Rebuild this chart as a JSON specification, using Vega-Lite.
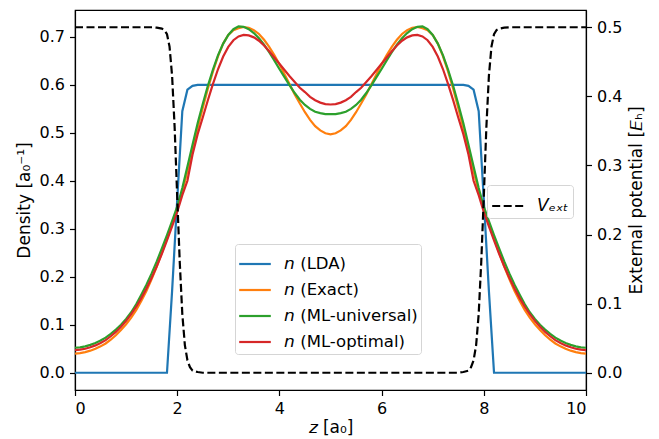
{
  "$schema": "https://vega.github.io/schema/vega-lite/v6.json",
  "width": 511,
  "height": 380,
  "autosize": "none",
  "padding": {"left": 75, "top": 10, "right": 73, "bottom": 49},
  "background": "white",
  "config": {
    "font": "DejaVu Sans",
    "view": {"stroke": "black", "strokeWidth": 1.2},
    "axis": {
      "grid": false,
      "domainColor": "black",
      "domainWidth": 1.2,
      "tickColor": "black",
      "tickWidth": 1.2,
      "labelColor": "black",
      "titleColor": "black",
      "labelFontSize": 16,
      "titleFontSize": 17,
      "titleFontWeight": "normal",
      "labelFont": "DejaVu Sans",
      "titleFont": "DejaVu Sans",
      "tickSize": 5.5,
      "labelPadding": 5
    }
  },
  "layer": [
    {
      "data": {
        "values": [
          {"z": 0.0, "lda": 0, "exact": 0.040, "mlu": 0.052, "mlo": 0.047},
          {"z": 0.1, "lda": 0, "exact": 0.041, "mlu": 0.053, "mlo": 0.048},
          {"z": 0.2, "lda": 0, "exact": 0.043, "mlu": 0.055, "mlo": 0.050},
          {"z": 0.3, "lda": 0, "exact": 0.046, "mlu": 0.058, "mlo": 0.053},
          {"z": 0.4, "lda": 0, "exact": 0.050, "mlu": 0.062, "mlo": 0.057},
          {"z": 0.5, "lda": 0, "exact": 0.055, "mlu": 0.067, "mlo": 0.062},
          {"z": 0.6, "lda": 0, "exact": 0.061, "mlu": 0.073, "mlo": 0.068},
          {"z": 0.7, "lda": 0, "exact": 0.069, "mlu": 0.081, "mlo": 0.076},
          {"z": 0.8, "lda": 0, "exact": 0.078, "mlu": 0.090, "mlo": 0.085},
          {"z": 0.9, "lda": 0, "exact": 0.089, "mlu": 0.100, "mlo": 0.096},
          {"z": 1.0, "lda": 0, "exact": 0.101, "mlu": 0.112, "mlo": 0.108},
          {"z": 1.1, "lda": 0, "exact": 0.115, "mlu": 0.126, "mlo": 0.122},
          {"z": 1.2, "lda": 0, "exact": 0.131, "mlu": 0.143, "mlo": 0.138},
          {"z": 1.3, "lda": 0, "exact": 0.150, "mlu": 0.163, "mlo": 0.156},
          {"z": 1.4, "lda": 0, "exact": 0.171, "mlu": 0.184, "mlo": 0.176},
          {"z": 1.5, "lda": 0, "exact": 0.195, "mlu": 0.207, "mlo": 0.198},
          {"z": 1.6, "lda": 0, "exact": 0.221, "mlu": 0.232, "mlo": 0.222},
          {"z": 1.7, "lda": 0, "exact": 0.250, "mlu": 0.259, "mlo": 0.248},
          {"z": 1.8, "lda": 0, "exact": 0.280, "mlu": 0.287, "mlo": 0.276},
          {"z": 1.9, "lda": 0.17, "exact": 0.310, "mlu": 0.316, "mlo": 0.305},
          {"z": 2.0, "lda": 0.36, "exact": 0.340, "mlu": 0.346, "mlo": 0.335},
          {"z": 2.1, "lda": 0.545, "exact": 0.378, "mlu": 0.385, "mlo": 0.370},
          {"z": 2.2, "lda": 0.59, "exact": 0.420, "mlu": 0.430, "mlo": 0.400},
          {"z": 2.3, "lda": 0.598, "exact": 0.465, "mlu": 0.475, "mlo": 0.455},
          {"z": 2.4, "lda": 0.6, "exact": 0.510, "mlu": 0.520, "mlo": 0.497},
          {"z": 2.5, "lda": 0.6, "exact": 0.552, "mlu": 0.560, "mlo": 0.532},
          {"z": 2.6, "lda": 0.6, "exact": 0.592, "mlu": 0.598, "mlo": 0.568},
          {"z": 2.7, "lda": 0.6, "exact": 0.628, "mlu": 0.632, "mlo": 0.602},
          {"z": 2.8, "lda": 0.6, "exact": 0.660, "mlu": 0.662, "mlo": 0.633},
          {"z": 2.9, "lda": 0.6, "exact": 0.686, "mlu": 0.686, "mlo": 0.659},
          {"z": 3.0, "lda": 0.6, "exact": 0.704, "mlu": 0.704, "mlo": 0.679},
          {"z": 3.1, "lda": 0.6, "exact": 0.714, "mlu": 0.716, "mlo": 0.693},
          {"z": 3.2, "lda": 0.6, "exact": 0.718, "mlu": 0.722, "mlo": 0.701},
          {"z": 3.3, "lda": 0.6, "exact": 0.7205, "mlu": 0.721, "mlo": 0.704},
          {"z": 3.4, "lda": 0.6, "exact": 0.719, "mlu": 0.716, "mlo": 0.703},
          {"z": 3.5, "lda": 0.6, "exact": 0.714, "mlu": 0.708, "mlo": 0.699},
          {"z": 3.6, "lda": 0.6, "exact": 0.706, "mlu": 0.697, "mlo": 0.692},
          {"z": 3.7, "lda": 0.6, "exact": 0.694, "mlu": 0.684, "mlo": 0.682},
          {"z": 3.8, "lda": 0.6, "exact": 0.679, "mlu": 0.668, "mlo": 0.670},
          {"z": 3.9, "lda": 0.6, "exact": 0.662, "mlu": 0.651, "mlo": 0.657},
          {"z": 4.0, "lda": 0.6, "exact": 0.643, "mlu": 0.633, "mlo": 0.644},
          {"z": 4.1, "lda": 0.6, "exact": 0.622, "mlu": 0.616, "mlo": 0.631},
          {"z": 4.2, "lda": 0.6, "exact": 0.601, "mlu": 0.599, "mlo": 0.618},
          {"z": 4.3, "lda": 0.6, "exact": 0.580, "mlu": 0.583, "mlo": 0.606},
          {"z": 4.4, "lda": 0.6, "exact": 0.561, "mlu": 0.569, "mlo": 0.594},
          {"z": 4.5, "lda": 0.6, "exact": 0.543, "mlu": 0.558, "mlo": 0.585},
          {"z": 4.6, "lda": 0.6, "exact": 0.527, "mlu": 0.550, "mlo": 0.575},
          {"z": 4.7, "lda": 0.6, "exact": 0.514, "mlu": 0.544, "mlo": 0.568},
          {"z": 4.8, "lda": 0.6, "exact": 0.505, "mlu": 0.541, "mlo": 0.563},
          {"z": 4.9, "lda": 0.6, "exact": 0.499, "mlu": 0.539, "mlo": 0.560},
          {"z": 5.0, "lda": 0.6, "exact": 0.497, "mlu": 0.539, "mlo": 0.559},
          {"z": 5.1, "lda": 0.6, "exact": 0.499, "mlu": 0.539, "mlo": 0.560},
          {"z": 5.2, "lda": 0.6, "exact": 0.505, "mlu": 0.541, "mlo": 0.563},
          {"z": 5.3, "lda": 0.6, "exact": 0.514, "mlu": 0.544, "mlo": 0.568},
          {"z": 5.4, "lda": 0.6, "exact": 0.527, "mlu": 0.550, "mlo": 0.575},
          {"z": 5.5, "lda": 0.6, "exact": 0.543, "mlu": 0.558, "mlo": 0.585},
          {"z": 5.6, "lda": 0.6, "exact": 0.561, "mlu": 0.569, "mlo": 0.594},
          {"z": 5.7, "lda": 0.6, "exact": 0.580, "mlu": 0.583, "mlo": 0.606},
          {"z": 5.8, "lda": 0.6, "exact": 0.601, "mlu": 0.599, "mlo": 0.618},
          {"z": 5.9, "lda": 0.6, "exact": 0.622, "mlu": 0.616, "mlo": 0.631},
          {"z": 6.0, "lda": 0.6, "exact": 0.643, "mlu": 0.633, "mlo": 0.644},
          {"z": 6.1, "lda": 0.6, "exact": 0.662, "mlu": 0.651, "mlo": 0.657},
          {"z": 6.2, "lda": 0.6, "exact": 0.679, "mlu": 0.668, "mlo": 0.670},
          {"z": 6.3, "lda": 0.6, "exact": 0.694, "mlu": 0.684, "mlo": 0.682},
          {"z": 6.4, "lda": 0.6, "exact": 0.706, "mlu": 0.697, "mlo": 0.692},
          {"z": 6.5, "lda": 0.6, "exact": 0.714, "mlu": 0.708, "mlo": 0.699},
          {"z": 6.6, "lda": 0.6, "exact": 0.719, "mlu": 0.716, "mlo": 0.703},
          {"z": 6.7, "lda": 0.6, "exact": 0.7205, "mlu": 0.721, "mlo": 0.704},
          {"z": 6.8, "lda": 0.6, "exact": 0.718, "mlu": 0.722, "mlo": 0.701},
          {"z": 6.9, "lda": 0.6, "exact": 0.714, "mlu": 0.716, "mlo": 0.693},
          {"z": 7.0, "lda": 0.6, "exact": 0.704, "mlu": 0.704, "mlo": 0.679},
          {"z": 7.1, "lda": 0.6, "exact": 0.686, "mlu": 0.686, "mlo": 0.659},
          {"z": 7.2, "lda": 0.6, "exact": 0.660, "mlu": 0.662, "mlo": 0.633},
          {"z": 7.3, "lda": 0.6, "exact": 0.628, "mlu": 0.632, "mlo": 0.602},
          {"z": 7.4, "lda": 0.6, "exact": 0.592, "mlu": 0.598, "mlo": 0.568},
          {"z": 7.5, "lda": 0.6, "exact": 0.552, "mlu": 0.560, "mlo": 0.532},
          {"z": 7.6, "lda": 0.6, "exact": 0.510, "mlu": 0.520, "mlo": 0.497},
          {"z": 7.7, "lda": 0.598, "exact": 0.465, "mlu": 0.475, "mlo": 0.455},
          {"z": 7.8, "lda": 0.59, "exact": 0.420, "mlu": 0.430, "mlo": 0.400},
          {"z": 7.9, "lda": 0.545, "exact": 0.378, "mlu": 0.385, "mlo": 0.370},
          {"z": 8.0, "lda": 0.36, "exact": 0.340, "mlu": 0.346, "mlo": 0.335},
          {"z": 8.1, "lda": 0.17, "exact": 0.310, "mlu": 0.316, "mlo": 0.305},
          {"z": 8.2, "lda": 0, "exact": 0.280, "mlu": 0.287, "mlo": 0.276},
          {"z": 8.3, "lda": 0, "exact": 0.250, "mlu": 0.259, "mlo": 0.248},
          {"z": 8.4, "lda": 0, "exact": 0.221, "mlu": 0.232, "mlo": 0.222},
          {"z": 8.5, "lda": 0, "exact": 0.195, "mlu": 0.207, "mlo": 0.198},
          {"z": 8.6, "lda": 0, "exact": 0.171, "mlu": 0.184, "mlo": 0.176},
          {"z": 8.7, "lda": 0, "exact": 0.150, "mlu": 0.163, "mlo": 0.156},
          {"z": 8.8, "lda": 0, "exact": 0.131, "mlu": 0.143, "mlo": 0.138},
          {"z": 8.9, "lda": 0, "exact": 0.115, "mlu": 0.126, "mlo": 0.122},
          {"z": 9.0, "lda": 0, "exact": 0.101, "mlu": 0.112, "mlo": 0.108},
          {"z": 9.1, "lda": 0, "exact": 0.089, "mlu": 0.100, "mlo": 0.096},
          {"z": 9.2, "lda": 0, "exact": 0.078, "mlu": 0.090, "mlo": 0.085},
          {"z": 9.3, "lda": 0, "exact": 0.069, "mlu": 0.081, "mlo": 0.076},
          {"z": 9.4, "lda": 0, "exact": 0.061, "mlu": 0.073, "mlo": 0.068},
          {"z": 9.5, "lda": 0, "exact": 0.055, "mlu": 0.067, "mlo": 0.062},
          {"z": 9.6, "lda": 0, "exact": 0.050, "mlu": 0.062, "mlo": 0.057},
          {"z": 9.7, "lda": 0, "exact": 0.046, "mlu": 0.058, "mlo": 0.053},
          {"z": 9.8, "lda": 0, "exact": 0.043, "mlu": 0.055, "mlo": 0.050},
          {"z": 9.9, "lda": 0, "exact": 0.041, "mlu": 0.053, "mlo": 0.048},
          {"z": 10.0, "lda": 0, "exact": 0.040, "mlu": 0.052, "mlo": 0.047}
        ]
      },
      "transform": [{"fold": ["lda", "exact", "mlu", "mlo"], "as": ["series", "n"]}],
      "mark": {"type": "line", "strokeWidth": 2.2, "clip": true},
      "encoding": {
        "x": {
          "field": "z", "type": "quantitative",
          "scale": {"domain": [0, 10], "nice": false, "zero": false},
          "axis": {"values": [0, 2, 4, 6, 8, 10], "title": "𝘻 [a₀]", "titlePadding": 3}
        },
        "y": {
          "field": "n", "type": "quantitative",
          "scale": {"domain": [-0.036, 0.756], "nice": false, "zero": false},
          "axis": {"values": [0, 0.1, 0.2, 0.3, 0.4, 0.5, 0.6, 0.7], "format": ".1f", "title": "Density [a₀⁻¹]", "titlePadding": 6}
        },
        "color": {
          "field": "series", "type": "nominal",
          "sort": ["lda", "exact", "mlu", "mlo"],
          "scale": {"domain": ["lda", "exact", "mlu", "mlo"], "range": ["#1f77b4", "#ff7f0e", "#2ca02c", "#d62728"]},
          "legend": {
            "title": null,
            "orient": "none",
            "legendX": 160,
            "legendY": 234,
            "labelExpr": "datum.label == 'lda' ? '𝘯 (LDA)' : datum.label == 'exact' ? '𝘯 (Exact)' : datum.label == 'mlu' ? '𝘯 (ML-universal)' : '𝘯 (ML-optimal)'",
            "symbolType": "stroke",
            "symbolSize": 1000,
            "symbolStrokeWidth": 2.2,
            "labelFontSize": 16.5,
            "labelFont": "DejaVu Sans",
            "labelColor": "black",
            "labelOffset": 12,
            "rowPadding": 0,
            "padding": 3,
            "strokeColor": "#d5d5d5",
            "fillColor": "white",
            "cornerRadius": 3
          }
        }
      }
    },
    {
      "data": {
        "values": [
          {"z": 0.0, "v": 0.5},
          {"z": 1.5, "v": 0.5},
          {"z": 1.6, "v": 0.4995},
          {"z": 1.7, "v": 0.498},
          {"z": 1.75, "v": 0.496},
          {"z": 1.8, "v": 0.49},
          {"z": 1.85, "v": 0.472},
          {"z": 1.9, "v": 0.43},
          {"z": 1.95, "v": 0.355},
          {"z": 2.0, "v": 0.255},
          {"z": 2.05, "v": 0.16},
          {"z": 2.1, "v": 0.085},
          {"z": 2.15, "v": 0.04},
          {"z": 2.2, "v": 0.018},
          {"z": 2.25, "v": 0.008},
          {"z": 2.3, "v": 0.003},
          {"z": 2.4, "v": 0.001},
          {"z": 2.5, "v": 0.0},
          {"z": 7.5, "v": 0.0},
          {"z": 7.6, "v": 0.001},
          {"z": 7.7, "v": 0.003},
          {"z": 7.75, "v": 0.008},
          {"z": 7.8, "v": 0.018},
          {"z": 7.85, "v": 0.04},
          {"z": 7.9, "v": 0.085},
          {"z": 7.95, "v": 0.16},
          {"z": 8.0, "v": 0.255},
          {"z": 8.05, "v": 0.355},
          {"z": 8.1, "v": 0.43},
          {"z": 8.15, "v": 0.472},
          {"z": 8.2, "v": 0.49},
          {"z": 8.25, "v": 0.496},
          {"z": 8.3, "v": 0.498},
          {"z": 8.4, "v": 0.4995},
          {"z": 8.5, "v": 0.5},
          {"z": 10.0, "v": 0.5}
        ]
      },
      "mark": {"type": "line", "color": "black", "strokeWidth": 2.2, "clip": true},
      "encoding": {
        "x": {"field": "z", "type": "quantitative"},
        "y": {
          "field": "v", "type": "quantitative",
          "scale": {"domain": [-0.025, 0.525], "nice": false, "zero": false},
          "axis": {"orient": "right", "values": [0, 0.1, 0.2, 0.3, 0.4, 0.5], "format": ".1f", "title": "External potential [𝘌ₕ]", "titleAngle": 270, "titleBaseline": "top", "titlePadding": 7}
        },
        "strokeDash": {
          "datum": "Vₑₓₜ",
          "scale": {"range": [[8, 3.5]]},
          "legend": {
            "title": null,
            "orient": "none",
            "legendX": 412,
            "legendY": 175,
            "symbolType": "stroke",
            "symbolSize": 1000,
            "symbolStrokeWidth": 2.2,
            "symbolStrokeColor": "black",
            "labelFontSize": 17,
            "labelFontStyle": "italic",
            "labelFont": "DejaVu Sans",
            "labelColor": "black",
            "labelOffset": 12,
            "padding": 4,
            "strokeColor": "#d5d5d5",
            "fillColor": "white",
            "cornerRadius": 3
          }
        }
      }
    }
  ],
  "resolve": {"scale": {"y": "independent", "strokeDash": "independent", "color": "independent"}}
}
